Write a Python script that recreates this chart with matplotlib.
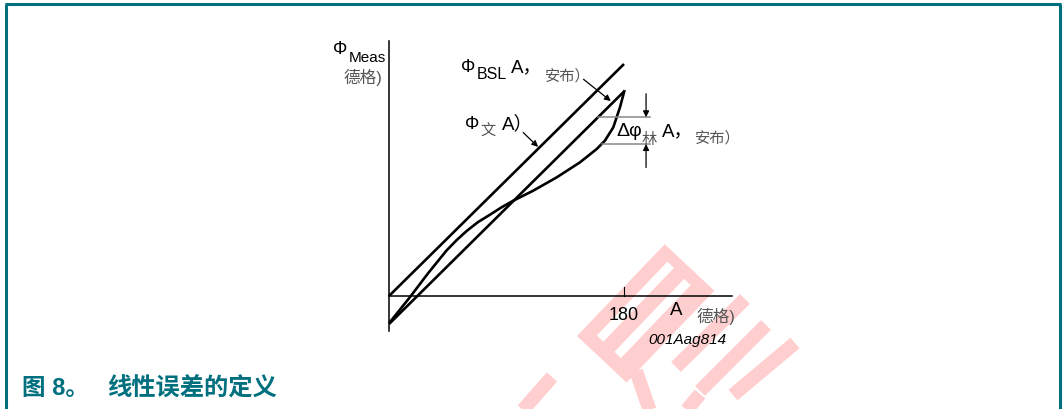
import numpy as np
import matplotlib.pyplot as plt
from matplotlib.patches import Polygon

plt.rcParams['font.family'] = ['Liberation Sans', 'Noto Sans CJK SC', 'DejaVu Sans']

# ---------------- data (degrees) ----------------
bsl_x = [0.0, 180.0]                 # best straight line
bsl_y = [0.0, 177.7]
ideal_x = [0.0, 180.2]               # ideal transfer line
ideal_y = [-21.5, 156.8]
meas_x = [0.8, 16.1, 30.0, 44.2, 52.0, 59.5, 68.0, 77.4, 86.0, 95.2, 110.5, 128.5,
          146.3, 159.1, 165.4, 171.8, 176.9, 180.2]
meas_y = [-19.9, -0.8, 17.5, 35.0, 43.0, 49.8, 56.5, 62.3, 67.8, 73.0, 80.7, 90.9,
          102.4, 112.6, 119.0, 129.2, 144.5, 156.8]
x_ticks = [180]
x_end, y_lo, y_hi = 262.7, -27.0, 195.3
dphi_top, dphi_bot = 136.9, 116.4    # error band bounds
dphi_x0_top, dphi_x0_bot, dphi_x1 = 160.0, 162.8, 200.0
dphi_arrow_x = 196.9

TEAL = "#00707f"
GREY = "#555555"
PINK = "#ffcfcf"

W, H = 1064, 410
fig = plt.figure(figsize=(W / 100, H / 100), dpi=100)

# watermark layer, in pixel units
wm = fig.add_axes([0, 0, 1, 1], zorder=0)
wm.set_xlim(0, W); wm.set_ylim(H, 0); wm.axis("off")
A = np.array([577.0, 337.0])
u = np.array([0.691, -0.723]); v = np.array([0.729, 0.685])
def box(s0, s1, t0, t1):
    return [A + s0 * u + t0 * v, A + s1 * u + t0 * v, A + s1 * u + t1 * v, A + s0 * u + t1 * v]
wm.add_patch(Polygon(box(0, 127, 0, 68), closed=True, fc=PINK, ec="none"))
wm.add_patch(Polygon(box(14, 116, 14, 23), closed=True, fc="white", ec="none"))
wm.add_patch(Polygon(box(14, 115, 38, 47), closed=True, fc="white", ec="none"))
strokes = [((552, 378), (522, 412)), ((745, 300), (676, 368)), ((766, 326), (700, 392)),
           ((795, 344), (733, 396)), ((636, 372), (650, 412)), ((700, 395), (686, 412))]
for (x0, y0), (x1, y1) in strokes:
    wm.plot([x0, x1], [y0, y1], color=PINK, lw=10, solid_capstyle="butt")

# frame
wm.plot([6, 6], [H, 5], color=TEAL, lw=2.2, solid_capstyle="butt")
wm.plot([5, 1061], [5, 5], color=TEAL, lw=2.2, solid_capstyle="butt")
wm.plot([1060, 1060], [5, H], color=TEAL, lw=2.2, solid_capstyle="butt")

# chart layer, equal scale on both axes
k = 180 / 235
ax = fig.add_axes([330 / W, 50 / H, 470 / W, 330 / H], zorder=1)
ax.set_xlim((330 - 389) * k, (800 - 389) * k)
ax.set_ylim((297 - 360) * k, (297 - 30) * k)
ax.patch.set_alpha(0)
ax.axis("off")

ax.plot([0, 0], [y_lo, y_hi], color="black", lw=1.1)
ax.plot([0, x_end], [0, 0], color="black", lw=1.1)
for t in x_ticks:
    ax.plot([t, t], [0, 7], color="black", lw=0.8)
    ax.text(t, -13.8, str(t), ha="center", va="center", fontsize=13)

ax.plot(bsl_x, bsl_y, color="black", lw=1.9, solid_capstyle="butt")
ax.plot(ideal_x, ideal_y, color="black", lw=1.9, solid_capstyle="butt")
ax.plot(meas_x, meas_y, color="black", lw=1.9, solid_joinstyle="round")

# error band markers
ax.plot([dphi_x0_top, dphi_x1], [dphi_top, dphi_top], color="#888888", lw=1.1)
ax.plot([dphi_x0_bot, dphi_x1], [dphi_bot, dphi_bot], color="#888888", lw=1.1)
arr = dict(arrowstyle="-|>", color="black", lw=0.9, mutation_scale=9, shrinkA=0, shrinkB=0)
ax.annotate("", xy=(dphi_arrow_x, dphi_top), xytext=(dphi_arrow_x, dphi_top + 18), arrowprops=arr)
ax.annotate("", xy=(dphi_arrow_x, dphi_bot), xytext=(dphi_arrow_x, dphi_bot - 18), arrowprops=arr)

# callouts
ax.annotate("", xy=(169.9, 149.3), xytext=(149.0, 166.0), arrowprops=arr)
ax.annotate("", xy=(114.2, 114.2), xytext=(102.8, 125.2), arrowprops=arr)

# labels
ax.text(-42.9, 189.4, "Φ", ha="left", va="center", fontsize=13)
ax.text(-31.0, 183.0, "Meas", ha="left", va="center", fontsize=11)
ax.text(-35.2, 168.5, "德格)", ha="left", va="center", fontsize=12, color=GREY)

ax.text(55.2, 175.6, "Φ", ha="left", va="center", fontsize=13)
ax.text(67.2, 170.4, "BSL", ha="left", va="center", fontsize=11.5)
ax.text(93.2, 175.4, "A，", ha="left", va="center", fontsize=13.5)
ax.text(119.5, 169.3, "安布）", ha="left", va="center", fontsize=11, color=GREY)

ax.text(58.0, 132.0, "Φ", ha="left", va="center", fontsize=13)
ax.text(70.2, 126.8, "文", ha="left", va="center", fontsize=11, color=GREY)
ax.text(86.6, 132.5, "A）", ha="left", va="center", fontsize=13.5)

ax.text(174.0, 126.4, "Δφ", ha="left", va="center", fontsize=14)
ax.text(193.4, 120.0, "林", ha="left", va="center", fontsize=11, color=GREY)
ax.text(208.8, 126.4, "A，", ha="left", va="center", fontsize=13.5)
ax.text(234.4, 121.8, "安布）", ha="left", va="center", fontsize=11, color=GREY)

ax.text(215.2, -10.7, "A", ha="left", va="center", fontsize=13.5)
ax.text(235.2, -14.6, "德格)", ha="left", va="center", fontsize=12, color=GREY)
ax.text(198.4, -32.9, "001Aag814", ha="left", va="center", fontsize=11, style="italic")

# caption
fig.text(22 / W, 1 - 389 / H, "图 8。", ha="left", va="center", fontsize=17,
         fontweight="bold", color=TEAL)
fig.text(107 / W, 1 - 389 / H, "线性误差的定义", ha="left", va="center", fontsize=17.5,
         fontweight="bold", color=TEAL)

fig.savefig("out.png", dpi=100)
